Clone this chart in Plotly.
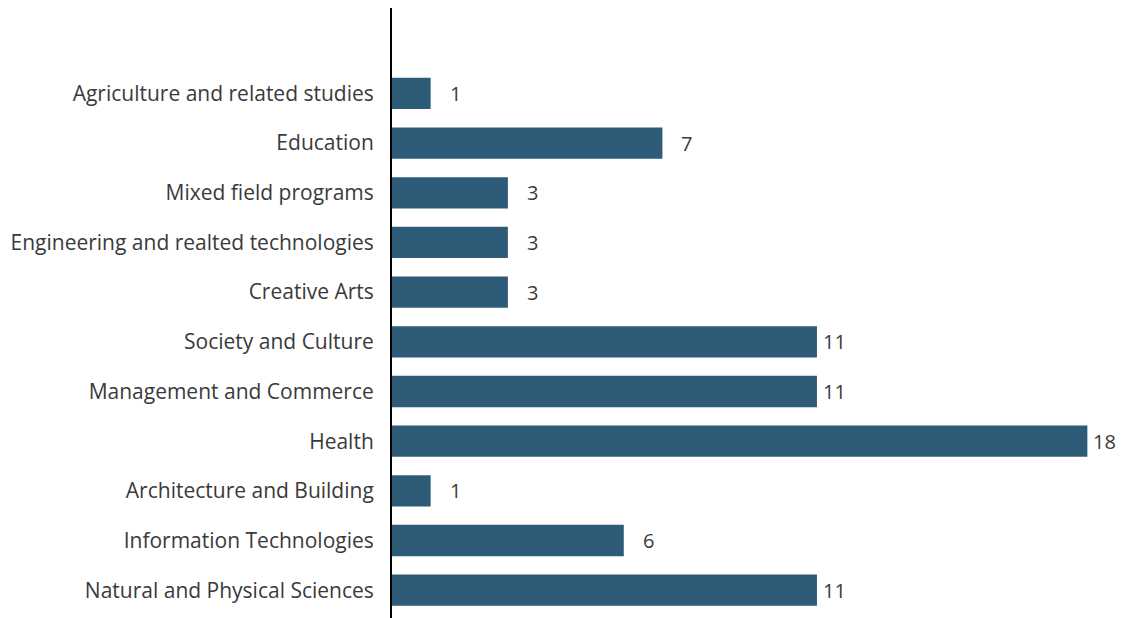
import plotly.graph_objects as go

categories = [
    "Natural and Physical Sciences",
    "Information Technologies",
    "Architecture and Building",
    "Health",
    "Management and Commerce",
    "Society and Culture",
    "Creative Arts",
    "Engineering and realted technologies",
    "Mixed field programs",
    "Education",
    "Agriculture and related studies",
]
values = [11, 6, 1, 18, 11, 11, 3, 3, 3, 7, 1]

BAR_COLOR = "#2e5c78"
TEXT_COLOR = "#3a3a3a"
FONT = "Open Sans"

fig = go.Figure()
fig.add_trace(go.Bar(
    y=categories, x=values, orientation="h",
    marker=dict(color=BAR_COLOR, line=dict(width=0)),
    width=0.63, hoverinfo="skip",
))

for c, v in zip(categories, values):
    fig.add_annotation(
        x=v, y=c, text=str(v), showarrow=False,
        xanchor="left", yanchor="middle",
        xshift=17 if len(str(v)) == 1 else 4,
        font=dict(family=FONT, size=20, color=TEXT_COLOR),
    )

fig.update_layout(
    width=1118, height=610,
    margin=dict(l=384, r=0, t=0, b=0),
    plot_bgcolor="white", paper_bgcolor="white",
    showlegend=False,
    font=dict(family=FONT, size=20, color=TEXT_COLOR),
)
fig.update_xaxes(range=[0, 19], visible=False, showgrid=False, zeroline=False)
fig.update_yaxes(
    range=[-0.56, 11.72], showgrid=False, zeroline=False,
    showline=True, linecolor="black", linewidth=2,
    ticks="", ticklabelstandoff=12,
    tickfont=dict(family=FONT, size=21, color=TEXT_COLOR),
)

fig.write_html("out.html")
